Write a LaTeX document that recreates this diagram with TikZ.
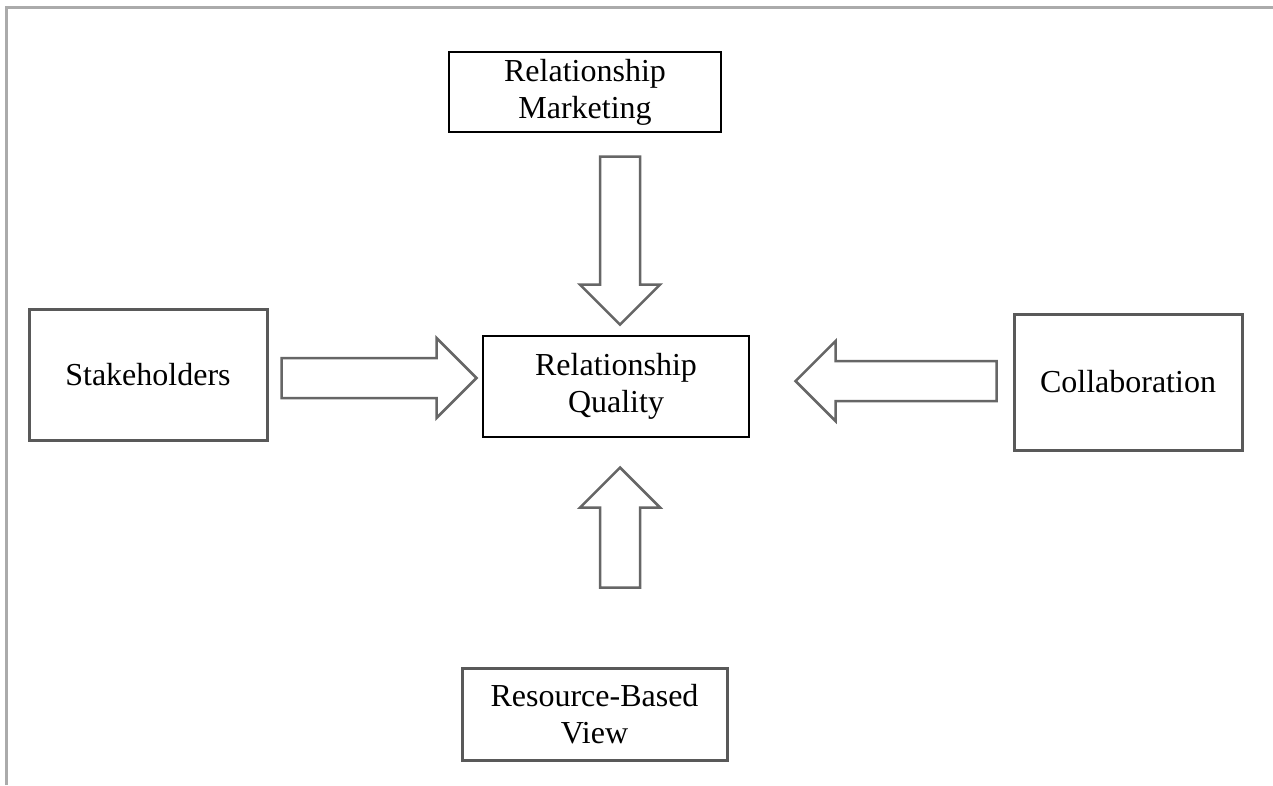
\documentclass[tikz,border=0pt]{standalone}
\usepackage{fontspec}
\setmainfont{Liberation Serif}
\usetikzlibrary{calc}

\tikzset{
  boxtext/.style={align=center, inner sep=0pt, font=\fontsize{32pt}{37pt}\selectfont},
  thinbox/.style={boxtext, draw=black, line width=1.3pt, fill=white},
  heavybox/.style={boxtext, draw=black!65, line width=3pt, fill=white},
  blockarrow/.style={draw=black!60, line width=2.5pt, line join=miter, fill=white},
  frameline/.style={draw=black!33, line width=3pt}
}

% hollow block arrow: #1 start coordinate, #2 direction (degrees), #3 total length
\newcommand\hollowarrow[3]{%
  \draw[blockarrow, shift={(#1)}, rotate=#2]
    (0,-20) -- ({#3-40},-20) -- ({#3-40},-40) -- (#3,0)
    -- ({#3-40},40) -- ({#3-40},20) -- (0,20) -- cycle;}

\begin{document}
\begin{tikzpicture}[x=1pt, y=-1pt]
  \useasboundingbox (0,0) rectangle (1273,785);

  % page frame
  \draw[frameline] (6,785) -- (6,7) -- (1273,7);

  % concept boxes
  \node[thinbox,  minimum width=272pt, minimum height=80pt]  (rm)     at (585,92)    {Relationship\\Marketing};
  \node[heavybox, minimum width=238pt, minimum height=131pt] (stake)  at (148,374.5) {Stakeholders};
  \node[thinbox,  minimum width=266pt, minimum height=101pt] (rq)     at (616,386.5) {Relationship\\Quality};
  \node[heavybox, minimum width=228pt, minimum height=136pt] (collab) at (1128,382)  {Collaboration};
  \node[heavybox, minimum width=265pt, minimum height=92pt]  (rbv)    at (594.5,714) {Resource-Based\\View};

  % start points of the block arrows
  \coordinate (dn) at ($(rq.north |- rm.south)+(4,24)$);
  \coordinate (up) at ($(rbv.north -| rq.south)+(4,-79)$);
  \coordinate (rt) at ($(stake.east)+(13,3.5)$);
  \coordinate (lt) at ($(collab.west)+(-16,-1)$);

  % block arrows pointing into Relationship Quality
  \hollowarrow{dn}{-90}{168}
  \hollowarrow{up}{90}{120}
  \hollowarrow{rt}{0}{195}
  \hollowarrow{lt}{180}{201}
\end{tikzpicture}
\end{document}
